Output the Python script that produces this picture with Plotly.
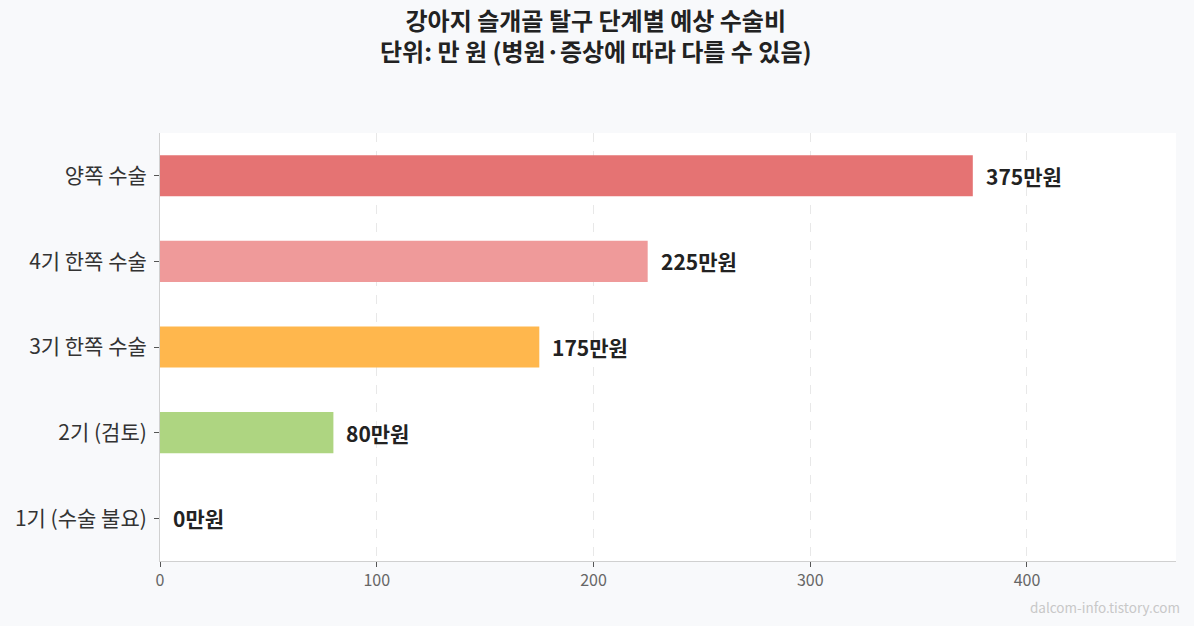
import plotly.graph_objects as go

# 수술 단계별 예상 비용 (만 원)
stages = ["1기 (수술 불요)", "2기 (검토)", "3기 한쪽 수술", "4기 한쪽 수술", "양쪽 수술"]
costs = [0, 80, 175, 225, 375]
colors = ["#bdbdbd", "#aed581", "#ffb74d", "#ef9a9a", "#e57373"]
labels = [f"{c}만원" for c in costs]

title_lines = ["강아지 슬개골 탈구 단계별 예상 수술비", "단위: 만 원 (병원·증상에 따라 다를 수 있음)"]
watermark = "dalcom-info.tistory.com"

FONT = "Noto Sans CJK KR"

fig = go.Figure()
fig.add_trace(go.Bar(
    x=costs,
    y=stages,
    orientation="h",
    marker=dict(color=colors, line=dict(width=0)),
    hoverinfo="skip",
))

# 막대 끝 값 라벨
annos = []
for stage, cost, lab in zip(stages, costs, labels):
    annos.append(dict(
        x=cost, y=stage, text=f"<b>{lab}</b>",
        xanchor="left", yanchor="middle", xshift=11,
        showarrow=False,
        font=dict(family=FONT, size=21, color="#222222"),
    ))

# 제목 (두 줄)
annos.append(dict(
    x=0.4295, y=1.229,
    xref="paper", yref="paper",
    text="<b>" + "<br>".join(title_lines) + "</b>",
    xanchor="center", yanchor="middle", align="center",
    showarrow=False,
    font=dict(family=FONT, size=24, color="#222222"),
))

annos.append(dict(
    text=watermark,
    xref="paper", yref="paper",
    x=1.006, y=-0.107, xanchor="right", yanchor="middle",
    showarrow=False,
    font=dict(family=FONT, size=13.5, color="#c8c8c8"),
))

fig.update_layout(
    width=1194,
    height=626,
    margin=dict(l=160, r=18, t=133, b=65),
    paper_bgcolor="#f8f9fb",
    plot_bgcolor="#ffffff",
    bargap=0.52,
    showlegend=False,
    font=dict(family=FONT),
    xaxis=dict(
        range=[0, max(costs) * 1.25],
        tickvals=[0, 100, 200, 300, 400],
        showgrid=True,
        gridcolor="#e8e8e8",
        griddash="dash",
        gridwidth=1,
        zeroline=False,
        showline=True,
        linecolor="#d0d0d0",
        linewidth=1,
        ticks="outside",
        ticklen=5,
        tickcolor="#555555",
        tickfont=dict(family=FONT, size=16, color="#666666"),
    ),
    yaxis=dict(
        showgrid=False,
        showline=True,
        linecolor="#d0d0d0",
        linewidth=1,
        ticks="outside",
        ticklen=5,
        tickcolor="#555555",
        ticklabelstandoff=3,
        tickfont=dict(family=FONT, size=21, color="#333333"),
    ),
    annotations=annos,
)

fig.write_html("out.html", config={"displayModeBar": False},
               post_script="document.body.style.margin='0';")
